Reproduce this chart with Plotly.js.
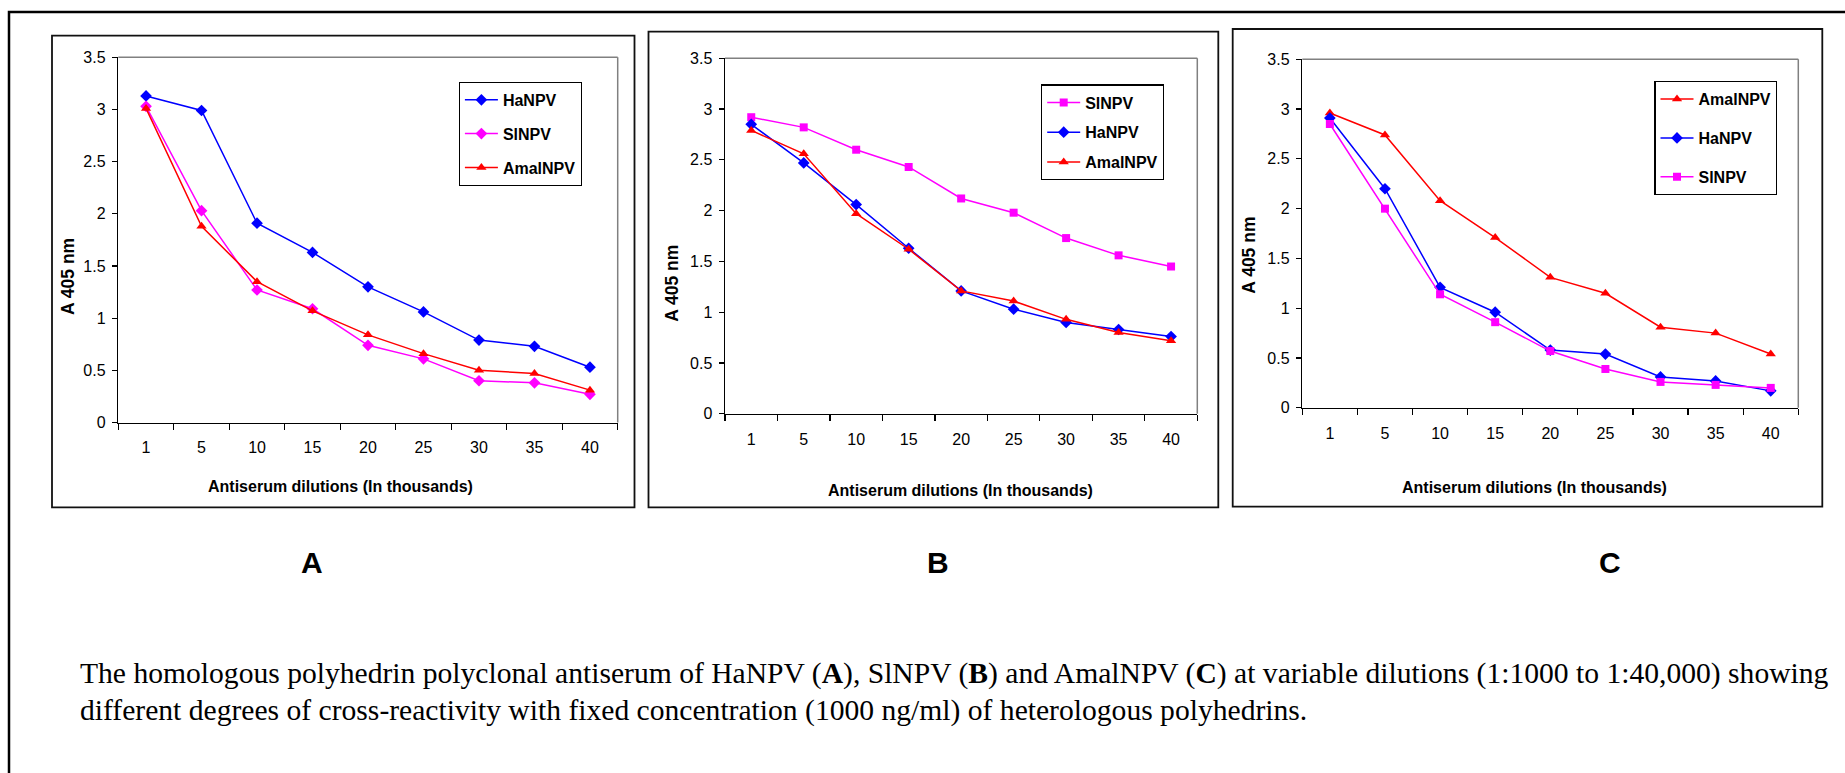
<!DOCTYPE html>
<html><head><meta charset="utf-8">
<script src="https://cdn.plot.ly/plotly-3.0.1.min.js"></script>
<style>html,body{margin:0;padding:0;background:#fff;overflow:hidden;} #chart{width:1845px;height:773px;}</style>
</head><body><div id="chart"></div>
<script>
// ---------- data ----------
const dilutions = ['1','5','10','15','20','25','30','35','40'];
// Panel A : HaNPV antiserum
const haA = [3.13, 2.99, 1.91, 1.63, 1.30, 1.06, 0.79, 0.73, 0.53];
const slA = [3.03, 2.03, 1.27, 1.09, 0.74, 0.61, 0.40, 0.38, 0.27];
const amA = [3.01, 1.88, 1.35, 1.07, 0.84, 0.66, 0.50, 0.47, 0.31];
// Panel B : SlNPV antiserum
const slB = [2.92, 2.82, 2.60, 2.43, 2.12, 1.98, 1.73, 1.56, 1.45];
const haB = [2.85, 2.47, 2.06, 1.63, 1.21, 1.03, 0.90, 0.83, 0.76];
const amB = [2.79, 2.56, 1.97, 1.62, 1.21, 1.11, 0.93, 0.80, 0.72];
// Panel C : AmalNPV antiserum
const amC = [2.96, 2.74, 2.08, 1.71, 1.31, 1.15, 0.81, 0.75, 0.54];
const haC = [2.91, 2.20, 1.21, 0.96, 0.58, 0.54, 0.31, 0.27, 0.17];
const slC = [2.85, 2.00, 1.14, 0.86, 0.57, 0.39, 0.26, 0.23, 0.20];

const nameHa = 'HaNPV', nameSl = 'SlNPV', nameAm = 'AmalNPV';
const panelLetters = ['A', 'B', 'C'];
const yTitle = 'A 405 nm';
const xTitle = 'Antiserum dilutions (In thousands)';
const caption1 = 'The homologous polyhedrin polyclonal antiserum of HaNPV (<b>A</b>), SlNPV (<b>B</b>) and AmalNPV (<b>C</b>) at variable dilutions (1:1000 to 1:40,000) showing';
const caption2 = 'different degrees of cross-reactivity with fixed concentration (1000 ng/ml) of heterologous polyhedrins.';

// ---------- geometry helpers ----------
const W = 1845, H = 773;
const px = v => v / W;
const py = v => 1 - v / H;
const SANS = 'Liberation Sans, Arial, sans-serif';
const SERIF = 'Liberation Serif, Times New Roman, serif';

const BLUE = '#0000FF', MAG = '#FF00FF', RED = '#FF0000';
const styles = {
  ha: {color: BLUE, symbol: 'diamond', size: 9},
  slD: {color: MAG, symbol: 'diamond', size: 9},
  slS: {color: MAG, symbol: 'square', size: 8},
  am: {color: RED, symbol: 'triangle-up', size: 9}
};
function tr(name, y, st, ax, leg) {
  return {
    type: 'scatter', mode: 'lines+markers', name: name, x: dilutions, y: y,
    xaxis: 'x' + ax, yaxis: 'y' + ax, legend: leg, legendgroup: name + ax,
    line: {color: st.color, width: 1.5},
    marker: {color: st.color, symbol: st.symbol, size: st.size, line: {width: 0}},
    cliponaxis: false
  };
}
const data = [
  tr(nameHa, haA, styles.ha, '', 'legend'),
  tr(nameSl, slA, styles.slD, '', 'legend'),
  tr(nameAm, amA, styles.am, '', 'legend'),
  tr(nameSl, slB, styles.slS, '2', 'legend2'),
  tr(nameHa, haB, styles.ha, '2', 'legend2'),
  tr(nameAm, amB, styles.am, '2', 'legend2'),
  tr(nameAm, amC, styles.am, '3', 'legend3'),
  tr(nameHa, haC, styles.ha, '3', 'legend3'),
  tr(nameSl, slC, styles.slS, '3', 'legend3')
];

// plot areas in pixels: [left, right, top, bottom]
const areas = [
  [118.3, 617.7, 57.3, 422.5],
  [725.0, 1197.3, 58.3, 413.8],
  [1302.3, 1798.3, 59.3, 407.8]
];
const boxes = [
  [52, 634.5, 35.7, 507.3],
  [648.5, 1218.3, 31.7, 507.3],
  [1232.7, 1822.3, 29, 506.7]
];
const legendPos = [[458.7, 81.7, 10], [1041, 84.3, 6], [1654.3, 81, 15]];
const yTitlePos = [[67.3, 276.7], [672.5, 283.3], [1248.7, 255]];
const xTitlePos = [[340.8, 486.7], [960.3, 490.7], [1534.9, 487.3]];
const letterPos = [[312, 562], [938, 562], [1610, 562]];

const layout = {
  width: W, height: H, margin: {l: 0, r: 0, t: 0, b: 0},
  paper_bgcolor: '#fff', plot_bgcolor: '#fff',
  font: {family: SANS, color: '#000', size: 16},
  showlegend: true,
  shapes: [], annotations: []
};
areas.forEach((a, i) => {
  const sfx = i === 0 ? '' : String(i + 1);
  layout['xaxis' + sfx] = {
    type: 'category', domain: [px(a[0]), px(a[1])], anchor: 'y' + sfx,
    range: [-0.5, 8.5], showgrid: false, zeroline: false,
    showline: true, linecolor: '#000', linewidth: 1.5,
    ticks: 'outside', tickson: 'boundaries', ticklen: 6, tickwidth: 1.2, tickcolor: '#000',
    tickfont: {family: SANS, size: 16, color: '#000'}, ticklabelstandoff: 10, fixedrange: true
  };
  layout['yaxis' + sfx] = {
    domain: [py(a[3]), py(a[2])], anchor: 'x' + sfx,
    range: [0, 3.5], dtick: 0.5, tick0: 0, showgrid: false, zeroline: false,
    showline: true, linecolor: '#000', linewidth: 1.5,
    ticks: 'outside', ticklen: 5, tickwidth: 1.2, tickcolor: '#000',
    tickfont: {family: SANS, size: 16, color: '#000'}, ticklabelstandoff: 3, fixedrange: true
  };
  // grey top and right frame of plot area
  layout.shapes.push({type: 'line', xref: 'paper', yref: 'paper', x0: px(a[0]), x1: px(a[1]), y0: py(a[2]), y1: py(a[2]), line: {color: '#808080', width: 1.5}});
  layout.shapes.push({type: 'line', xref: 'paper', yref: 'paper', x0: px(a[1]), x1: px(a[1]), y0: py(a[2]), y1: py(a[3]), line: {color: '#808080', width: 1.5}});
  // chart box
  const b = boxes[i];
  layout.shapes.push({type: 'rect', xref: 'paper', yref: 'paper', x0: px(b[0]), x1: px(b[1]), y0: py(b[3]), y1: py(b[2]), line: {color: '#111', width: 1.8}, fillcolor: 'rgba(0,0,0,0)', layer: 'below'});
  // legend
  const lp = legendPos[i];
  layout[i === 0 ? 'legend' : 'legend' + (i + 1)] = {
    x: px(lp[0]), y: py(lp[1]), xanchor: 'left', yanchor: 'top', xref: 'paper', yref: 'paper',
    bgcolor: '#fff', bordercolor: '#000', borderwidth: 1.2,
    font: {family: SANS, size: 16, color: '#000', weight: 'bold'},
    tracegroupgap: lp[2], itemwidth: 33, traceorder: 'grouped'
  };
  // axis titles
  layout.annotations.push({xref: 'paper', yref: 'paper', x: px(yTitlePos[i][0]), y: py(yTitlePos[i][1]),
    text: '<b>' + yTitle + '</b>', textangle: -90, showarrow: false, xanchor: 'center', yanchor: 'middle',
    font: {family: SANS, size: 17.5, color: '#000'}});
  layout.annotations.push({xref: 'paper', yref: 'paper', x: px(xTitlePos[i][0]), y: py(xTitlePos[i][1]),
    text: '<b>' + xTitle + '</b>', showarrow: false, xanchor: 'center', yanchor: 'middle',
    font: {family: SANS, size: 16, color: '#000'}});
  // panel letter
  layout.annotations.push({xref: 'paper', yref: 'paper', x: px(letterPos[i][0]), y: py(letterPos[i][1]),
    text: '<b>' + panelLetters[i] + '</b>', showarrow: false, xanchor: 'center', yanchor: 'middle',
    font: {family: SANS, size: 30, color: '#000'}});
});
// outer frame (top and left lines)
layout.shapes.push({type: 'path', xref: 'paper', yref: 'paper',
  path: `M ${px(9)} ${py(773)} L ${px(9)} ${py(12)} L ${px(1845)} ${py(12)}`,
  line: {color: '#000', width: 2.5}});
// caption
layout.annotations.push({xref: 'paper', yref: 'paper', x: px(78), y: py(673), text: caption1,
  showarrow: false, xanchor: 'left', yanchor: 'middle', font: {family: SERIF, size: 29.6, color: '#000'}});
layout.annotations.push({xref: 'paper', yref: 'paper', x: px(78), y: py(710), text: caption2,
  showarrow: false, xanchor: 'left', yanchor: 'middle', font: {family: SERIF, size: 29.6, color: '#000'}});

Plotly.newPlot('chart', data, layout, {staticPlot: true, displayModeBar: false});
</script></body></html>
